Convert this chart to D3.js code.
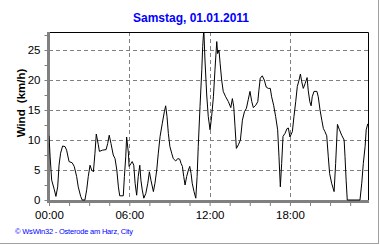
<!DOCTYPE html>
<html>
<head>
<meta charset="utf-8">
<script src="https://cdn.jsdelivr.net/npm/d3@7"></script>
<style>
  body { margin: 0; background: #fff; }
  svg { display: block; font-family: "Liberation Sans", Arial, sans-serif; }
</style>
</head>
<body>
<svg id="chart" width="380" height="245"></svg>
<script>
// wind readings (time of day, km/h)
var times = ["00:00","00:05","00:12","00:24","00:31","00:39","00:45","00:52","01:01","01:12","01:19","01:30","01:44","01:53","02:04","02:11","02:22","02:29","02:41","02:49","02:56","03:04","03:11","03:19","03:26","03:32","03:41","03:46","03:59","04:16","04:23","04:30","04:38","04:48","04:56","05:04","05:11","05:17","05:33","05:38","05:44","05:48","05:56","05:59","06:08","06:13","06:20","06:26","06:33","06:40","06:47","06:52","06:58","07:05","07:14","07:23","07:30","07:37","07:48","07:55","08:03","08:10","08:18","08:28","08:37","08:43","08:49","08:55","09:02","09:10","09:17","09:28","09:37","09:46","09:52","09:58","10:04","10:10","10:17","10:25","10:31","10:37","10:42","10:50","10:58","11:04","11:09","11:17","11:25","11:29","11:34","11:39","11:47","11:54","12:02","12:09","12:17","12:24","12:32","12:36","12:42","12:47","12:54","13:01","13:12","13:24","13:35","13:42","13:48","13:54","14:00","14:09","14:18","14:27","14:36","14:45","14:53","15:01","15:09","15:16","15:27","15:36","15:41","15:47","15:56","16:05","16:14","16:23","16:32","16:38","16:47","16:56","17:05","17:11","17:17","17:23","17:29","17:38","17:47","17:53","18:00","18:11","18:18","18:26","18:33","18:41","18:47","18:53","19:00","19:08","19:17","19:22","19:29","19:35","19:40","19:48","20:01","20:07","20:15","20:23","20:30","20:37","20:45","20:52","20:58","21:07","21:18","21:25","21:33","21:41","21:52","22:03","22:07","22:12","22:17","23:14","23:22","23:29","23:37","23:42","23:49"];
var wind = [10.7,7.2,3.3,1.7,0.6,2.2,5.8,7.8,9.0,8.9,8.3,6.4,6.2,5.6,3.9,2.2,0.6,0,0,1.7,3.9,5.8,5.0,4.7,7.8,11.0,9.2,8.1,8.3,8.4,9.4,10.8,9.4,7.5,6.9,5.0,2.2,0.7,0.7,3.9,7.2,10.5,7.8,5.6,6.1,6.4,5.8,2.8,0.8,3.9,5.8,3.3,1.7,0.3,1.1,2.8,4.7,3.3,1.4,2.8,5.0,7.8,10.6,12.8,14.7,15.7,13.9,11.1,8.9,7.8,6.9,6.5,6.9,6.8,6.1,5.6,3.9,2.5,3.9,5.0,5.6,4.4,2.8,1.4,0.3,3.9,8.9,15.6,21.7,25.6,28.5,23.5,17.5,13.9,11.7,13.9,17.2,21.7,26.4,24.4,25,22.8,20,18.1,17.2,16.4,15.4,16.9,15.6,12.2,8.6,9.2,10,13.3,14.7,15.3,16.7,18.1,16.4,15.4,15.8,16.4,18.3,20.3,20.7,20,18.8,18.6,18.6,17.2,15.8,13.9,11.7,7.2,2.2,6.1,10.6,11.1,11.9,12,10.5,11.4,13.9,16.4,18.9,20,21,19.7,18.6,19.4,20.4,18.3,16.4,15.7,17.2,18.1,18.1,17.2,15,13.3,11.9,11.4,10.7,7.2,4.4,2.8,1.4,6.1,12.6,11.8,10.8,10,7.2,3.3,0,0,2.8,6.1,8.9,11.7,12.7];

var yTicks = [0, 5, 10, 15, 20, 25];
var xTickLabels = ["00:00", "06:00", "12:00", "18:00"];
var title = "Samstag, 01.01.2011";
var footer = "\u00a9 WsWin32  -  Osterode am Harz, City";

function toMin(s) {
    var p = s.split(":");
    return +p[0] * 60 + +p[1];
}

var data = times.map(function (t, i) { return { t: toMin(t), v: wind[i] }; });

var svg = d3.select("#chart");
var pLeft = 49, pRight = 368, pTop = 32, pBottom = 200;

var x = d3.scaleLinear().domain([0, 1430]).range([pLeft, pRight]);
var y = d3.scaleLinear().domain([0, 28]).range([pBottom, pTop]);

// outer frame shadow
svg.append("line").attr("x1", 378.5).attr("x2", 378.5).attr("y1", 0).attr("y2", 244)
    .attr("stroke", "#a0a0a0");
svg.append("line").attr("x1", 0).attr("x2", 379).attr("y1", 243.5).attr("y2", 243.5)
    .attr("stroke", "#a0a0a0");

// title
svg.append("text")
    .attr("x", 191).attr("y", 22)
    .attr("text-anchor", "middle")
    .attr("font-size", 12).attr("font-weight", "bold")
    .attr("fill", "#0000ff")
    .text(title);

// dashed grid
var grid = svg.append("g").attr("stroke", "#808080").attr("stroke-dasharray", "4,3");
yTicks.filter(function (d) { return d > 0; }).forEach(function (d) {
    grid.append("line")
        .attr("x1", pLeft).attr("x2", pRight)
        .attr("y1", Math.round(y(d)) + 0.5).attr("y2", Math.round(y(d)) + 0.5);
});
xTickLabels.slice(1).forEach(function (lab) {
    var xx = Math.round(x(toMin(lab))) + 0.5;
    grid.append("line").attr("x1", xx).attr("x2", xx).attr("y1", pTop).attr("y2", pBottom);
});

// frame top/right
svg.append("path")
    .attr("d", "M" + pLeft + "," + (pTop + 0.5) + "H" + (pRight + 0.5) + "V" + (pBottom + 1))
    .attr("fill", "none").attr("stroke", "#000");

// gray axis bands
svg.append("rect").attr("x", 47).attr("y", pTop).attr("width", 3).attr("height", pBottom - pTop + 3)
    .attr("fill", "#808080");
svg.append("rect").attr("x", 47).attr("y", 200).attr("width", pRight - 47 + 1).attr("height", 3)
    .attr("fill", "#808080");

// y axis ticks + labels
var yAxis = d3.axisLeft(y)
    .tickValues(d3.range(0, 28, 2.5))
    .tickSize(3).tickPadding(4)
    .tickFormat(function (d) { return d % 5 === 0 ? d : ""; });
var ya = svg.append("g").attr("transform", "translate(47.5,0)").call(yAxis);
ya.select(".domain").remove();
ya.selectAll("line").attr("stroke", "#808080");
ya.selectAll("text").attr("font-size", 11.5).attr("fill", "#000");
ya.attr("font-family", null);

// x axis ticks + labels
var xAxis = d3.axisBottom(x)
    .tickValues(d3.range(0, 1440, 90))
    .tickSize(3).tickPadding(5)
    .tickFormat(function (d) {
        var lab = d3.format("02d")(Math.floor(d / 60)) + ":" + d3.format("02d")(d % 60);
        return xTickLabels.indexOf(lab) >= 0 ? lab : "";
    });
var xa = svg.append("g").attr("transform", "translate(0,203)").call(xAxis);
xa.select(".domain").remove();
xa.selectAll("line").attr("stroke", "#808080");
xa.selectAll("text").attr("font-size", 11.5).attr("fill", "#000");
xa.attr("font-family", null);

// y label
svg.append("text")
    .attr("transform", "translate(25,103) rotate(-90)")
    .attr("text-anchor", "middle")
    .attr("font-size", 11.5).attr("font-weight", "bold")
    .attr("word-spacing", 3)
    .text("Wind (km/h)");

// data line, clipped to plot
svg.append("clipPath").attr("id", "clip")
    .append("rect").attr("x", pLeft).attr("y", pTop).attr("width", pRight - pLeft + 1).attr("height", pBottom - pTop + 2);

svg.append("path")
    .datum(data)
    .attr("clip-path", "url(#clip)")
    .attr("fill", "none")
    .attr("stroke", "#000")
    .attr("stroke-width", 1)
    .attr("stroke-linejoin", "round")
    .attr("d", d3.line()
        .x(function (d) { return x(d.t); })
        .y(function (d) { return y(d.v); }));

// footer
svg.append("text")
    .attr("x", 15).attr("y", 234)
    .attr("font-size", 7.5)
    .attr("fill", "#0000ff")
    .attr("textLength", 118)
    .text(footer);
</script>
</body>
</html>
